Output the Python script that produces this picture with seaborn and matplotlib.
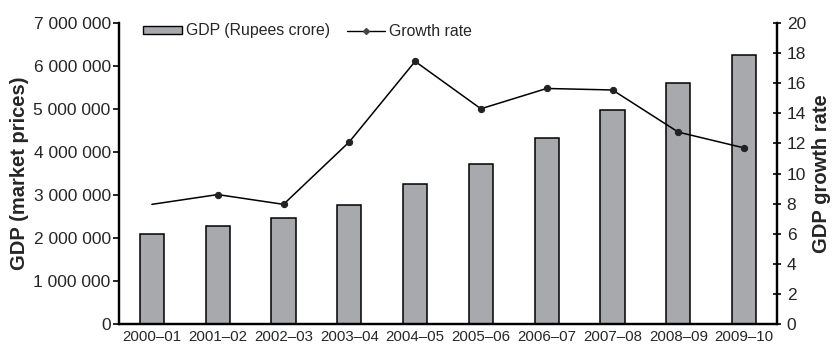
import numpy as np
import pandas as pd
import matplotlib
matplotlib.use("Agg")
import matplotlib.pyplot as plt
from matplotlib.ticker import FuncFormatter, FixedLocator
from matplotlib.lines import Line2D
from matplotlib.patches import Patch
from matplotlib.legend_handler import HandlerLine2D
import seaborn as sns

years = ["2000\u201301", "2001\u201302", "2002\u201303", "2003\u201304", "2004\u201305",
         "2005\u201306", "2006\u201307", "2007\u201308", "2008\u201309", "2009\u201310"]
gdp = [2102000, 2290000, 2462000, 2775000, 3255000,
       3715000, 4325000, 4975000, 5600000, 6250000]
growth = [7.95, 8.6, 7.95, 12.1, 17.45, 14.3, 15.65, 15.55, 12.75, 11.7]

sns.set_theme(style="white")
plt.rcParams["font.family"] = ["Liberation Sans", "DejaVu Sans"]

df = pd.DataFrame({"year": years, "gdp": gdp, "growth": growth})

fig = plt.figure(figsize=(8.34, 3.44), dpi=100)
ax = fig.add_axes([119 / 834, 1 - 324 / 344, (777 - 119) / 834, (324 - 23) / 344])

bar_color = "#a8a9ad"
sns.barplot(data=df, x="year", y="gdp", ax=ax, color=bar_color, width=0.365,
            edgecolor="black", linewidth=1.1, saturation=1)
ax.set_xlim(-0.5, len(years) - 0.5)
ax.set_ylim(0, 7000000)
ax.set_yticks(np.arange(0, 7000001, 1000000))
ax.yaxis.set_major_formatter(FuncFormatter(lambda v, p: f"{int(v):,}".replace(",", " ")))
ax.set_xlabel("")
ax.set_ylabel("GDP (market prices)", fontsize=14.5, fontweight="bold", labelpad=3)

# category labels centred, tick marks on the boundaries between categories
ax.xaxis.set_minor_locator(FixedLocator(np.arange(0.5, len(years) - 0.5, 1)))
ax.tick_params(axis="x", which="major", length=0, pad=4, labelsize=10.8)
ax.tick_params(axis="x", which="minor", length=4, width=1.2, direction="out", color="black")
ax.tick_params(axis="y", which="major", length=4, width=1.2, direction="out",
               pad=2, labelsize=12.5, left=True, color="black")

ax2 = ax.twinx()
sns.lineplot(x=np.arange(len(years)), y=growth, ax=ax2, color="black", linewidth=1.1,
             marker="o", markersize=4.5, markevery=list(range(1, len(years))),
             markeredgecolor="#222222", markerfacecolor="#222222")
ax2.set_ylim(0, 20)
ax2.set_yticks(np.arange(0, 21, 2))
ax2.set_ylabel("GDP growth rate", fontsize=14.5, fontweight="bold", labelpad=4)
ax2.tick_params(axis="y", which="major", length=6, width=1.2, direction="inout",
                pad=4, labelsize=12.5, right=True, color="black")

for a in (ax, ax2):
    a.spines["top"].set_visible(False)
    for s in ("left", "right", "bottom"):
        a.spines[s].set_linewidth(1.6)
        a.spines[s].set_color("black")
    a.grid(False)


class LeftMarkerHandler(HandlerLine2D):
    def get_xdata(self, legend, xdescent, ydescent, width, height, fontsize):
        return [-xdescent, -xdescent + width], [-xdescent]


handles = [
    Patch(facecolor=bar_color, edgecolor="black", linewidth=1.0),
    Line2D([], [], color="black", linewidth=1.0, marker="D", markersize=3,
           markerfacecolor="#444444", markeredgecolor="#444444"),
]
fig.legend(handles, ["GDP (Rupees crore)", "Growth rate"], ncol=2, frameon=False,
           loc="center left", bbox_to_anchor=(143 / 834, 1 - 31 / 344),
           bbox_transform=fig.transFigure, fontsize=11.4, borderpad=0,
           borderaxespad=0, handlelength=2.45, handleheight=0.4, handletextpad=0.25,
           columnspacing=1.05, handler_map={handles[1]: LeftMarkerHandler()})

fig.savefig("out.png", dpi=100)
